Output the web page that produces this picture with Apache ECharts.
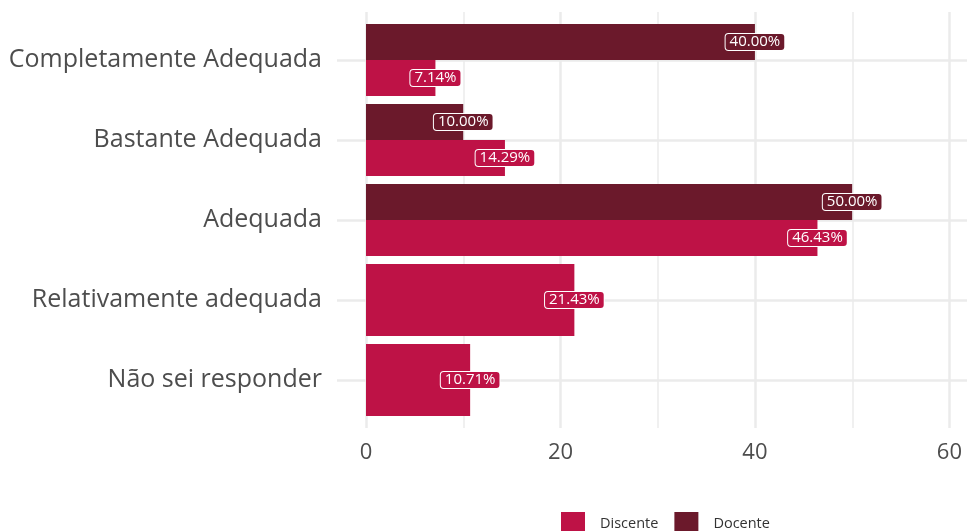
<!DOCTYPE html>
<html><head><meta charset="utf-8">
<script src="https://cdn.jsdelivr.net/npm/echarts@6/dist/echarts.min.js"></script>
<style>html,body{margin:0;padding:0;background:#fff}#c{width:967px;height:531px}</style>
</head><body><div id="c"></div>
<script>
const categories = ['Completamente Adequada','Bastante Adequada','Adequada','Relativamente adequada','Não sei responder'];
const docente = [40.00, 10.00, 50.00, null, null];
const discente = [7.14, 14.29, 46.43, 21.43, 10.71];
const xTicks = [0, 20, 40, 60];
const gridX = [0, 10, 20, 30, 40, 50, 60];

const C_DIS = '#BE1246', C_DOC = '#6B192B';
const FONT = '"Open Sans", "Noto Sans", sans-serif';

// paired vs single
const discPaired = discente.map((v,i)=> docente[i]!=null ? v : null);
const discSingle = discente.map((v,i)=> docente[i]==null ? v : null);

function lbl(color){
  return {show:true, position:['100%','50%'], align:'center', verticalAlign:'middle',
    formatter: p => p.value==null ? '' : Number(p.value).toFixed(2)+'%',
    color:'#fff', fontSize:15, fontFamily:FONT, backgroundColor:color,
    borderColor:'#fff', borderWidth:1, borderRadius:3, padding:[1,4,0,4]};
}

const chart = echarts.init(document.getElementById('c'), null, {renderer:'canvas'});
chart.setOption({
  animation:false,
  grid:[
    {left:366, right:17.6, top:20, bottom:111},
    {left:337, right:0, top:12, bottom:103}
  ],
  legend:{top:512, left:561, padding:0, itemWidth:24, itemHeight:24, itemGap:16,
    icon:'rect', textStyle:{fontSize:14.5, color:'#333', fontFamily:FONT, padding:[0,0,0,10]},
    data:['Discente','Docente']},
  xAxis:[
    {gridIndex:0, type:'value', min:0, max:60, interval:20,
     axisLine:{show:false}, axisTick:{show:false}, splitLine:{show:false},
     axisLabel:{fontSize:22, color:'#4D4D4D', fontFamily:FONT, margin:22}},
    {gridIndex:1, type:'value', min:-3, max:61.8, show:false, splitLine:{show:false}}
  ],
  yAxis:[
    {gridIndex:0, type:'category', data:categories, inverse:true,
     axisLine:{show:false}, axisTick:{show:false}, splitLine:{show:false},
     axisLabel:{fontSize:25, color:'#4D4D4D', fontFamily:FONT, margin:44}},
    {gridIndex:0, type:'category', data:categories, inverse:true, show:false, position:'left'},
    {gridIndex:1, type:'value', min:0.4, max:5.6, inverse:true, show:false, splitLine:{show:false}}
  ],
  series:[
    {type:'line', xAxisIndex:1, yAxisIndex:2, data:[], silent:true, zlevel:0,
     markLine:{silent:true, symbol:'none', label:{show:false},
       data: gridX.map(v=>({xAxis:v, lineStyle:{color:'#EBEBEB', type:'solid', width: v%20===0 ? 2.5 : 1.5}}))
         .concat(categories.map((c,i)=>({yAxis:i+1, lineStyle:{color:'#EBEBEB', type:'solid', width:2.5}})))
     }},
    {name:'Docente', type:'bar', xAxisIndex:0, yAxisIndex:0, data:docente, zlevel:1,
     itemStyle:{color:C_DOC}, barGap:'0%', barCategoryGap:'10%', label:lbl(C_DOC)},
    {name:'Discente', type:'bar', xAxisIndex:0, yAxisIndex:0, data:discPaired, zlevel:1,
     itemStyle:{color:C_DIS}, barGap:'0%', barCategoryGap:'10%', label:lbl(C_DIS)},
    {name:'Discente', type:'bar', xAxisIndex:0, yAxisIndex:1, data:discSingle, zlevel:1,
     itemStyle:{color:C_DIS}, barWidth:'90%', label:lbl(C_DIS)}
  ]
});
</script></body></html>
